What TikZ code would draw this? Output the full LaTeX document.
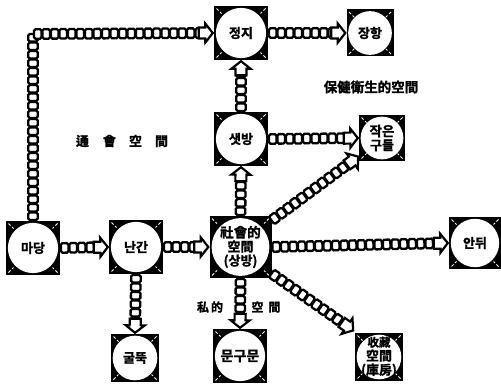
\documentclass[tikz,border=0pt]{standalone}
\usepackage{fontspec}
\usetikzlibrary{decorations.markings}
\setmainfont{Noto Sans CJK KR}[BoldFont={Noto Sans CJK KR Bold},BoldFeatures={FakeBold=1.5}]
\tikzset{
  x=1pt,y=-1pt,
  room/.style={minimum size=#1,inner sep=0pt,fill=black,align=center,font=\bfseries\fontsize{13}{14}\selectfont,
    path picture={
      \fill[white] (path picture bounding box.center) circle ({0.465*#1});
      \draw[white,line width=1pt,dash pattern=on 3pt off 2pt]
        (path picture bounding box.north west) ++(2.5,2.5) -- ++(5,5)
        (path picture bounding box.north east) ++(-2.5,2.5) -- ++(-5,5)
        (path picture bounding box.south west) ++(2.5,-2.5) -- ++(5,-5)
        (path picture bounding box.south east) ++(-2.5,-2.5) -- ++(-5,-5);
    }},
  cell/.style={draw=black,fill=white,line width=2.3pt,rounded corners=1.5pt,minimum width=7.5pt,minimum height=9.5pt,inner sep=0pt,transform shape},
  chain/.style={draw=none,decoration={markings,
      mark=between positions 4.5pt and -12pt step 8.5pt with {\node[cell]{};},
      mark=at position 1 with {\draw[draw=black,fill=white,line width=2.2pt,line join=miter]
        (-15,-5.5)--(-8.5,-5.5)--(-8.5,-9.5)--(-1,0)--(-8.5,9.5)--(-8.5,5.5)--(-15,5.5)--cycle;}},
    postaction=decorate},
  cap/.style={font=\bfseries\fontsize{#1}{#1}\selectfont,inner sep=0pt},
}
\begin{document}
\begin{tikzpicture}
\useasboundingbox (0,0) rectangle (501,385);
\node[room=54pt] (madang) at (33,248) {마당};
\node[room=54pt] (ganan) at (136,247) {난간};
\node[room=62pt] (sang) at (240.5,247) {\fontsize{13.5}{14.5}\selectfont 社會的\\空間\\(상방)};
\node[room=54pt] (jeong) at (241,33) {정지};
\node[room=47pt] (jang) at (370,33) {장항};
\node[room=54pt] (saet) at (241,139) {샛방};
\node[room=46pt] (jak) at (382,138) {\fontsize{13.5}{14}\selectfont 작은\\구들};
\node[room=52pt] (anwi) at (475,243) {안뒤};
\node[room=48pt] (gul) at (135,358) {굴뚝};
\node[room=54pt] (mun) at (240,356) {\fontsize{14}{14}\selectfont 문구문};
\node[room=48pt] (su) at (379,357) {\fontsize{11.5}{12.5}\selectfont 收藏\\空間\\(庫房)};
\coordinate (corner) at (33,34);
\coordinate (jakgoal) at (359,156);
\coordinate (sugoal) at (354,331);
\coordinate (sangne) at (271,221);
\coordinate (sangse) at (271,273);
\draw[chain] (madang.north) -- (corner) -- (jeong.west);
\draw[chain] (madang.east) -- (ganan.west);
\draw[chain] (ganan.east) -- (sang.west);
\draw[chain] (ganan.south) -- (gul.north);
\draw[chain] (sang.north) -- (saet.south);
\draw[chain] (saet.north) -- (jeong.south);
\draw[chain] (jeong.east) -- (jang.west);
\draw[chain] (saet.east) -- (jak.west);
\draw[chain] (sangne) -- (jakgoal);
\draw[chain] (sang.east) -- (anwi.west);
\draw[chain] (sangse) -- (sugoal);
\draw[chain] (sang.south) -- (mun.north);
\node[cap=13.5] (t1) at (371,87) {保健衛生的空間};
\node[cap=13] (t2) at (122,141) {通\hspace{14pt}會\hspace{13pt}空\hspace{13pt}間};
\node[cap=12] (t3) at (210,307) {私\hspace{2pt}的};
\node[cap=12] (t4) at (266,307) {空\hspace{5pt}間};
\end{tikzpicture}
\end{document}
